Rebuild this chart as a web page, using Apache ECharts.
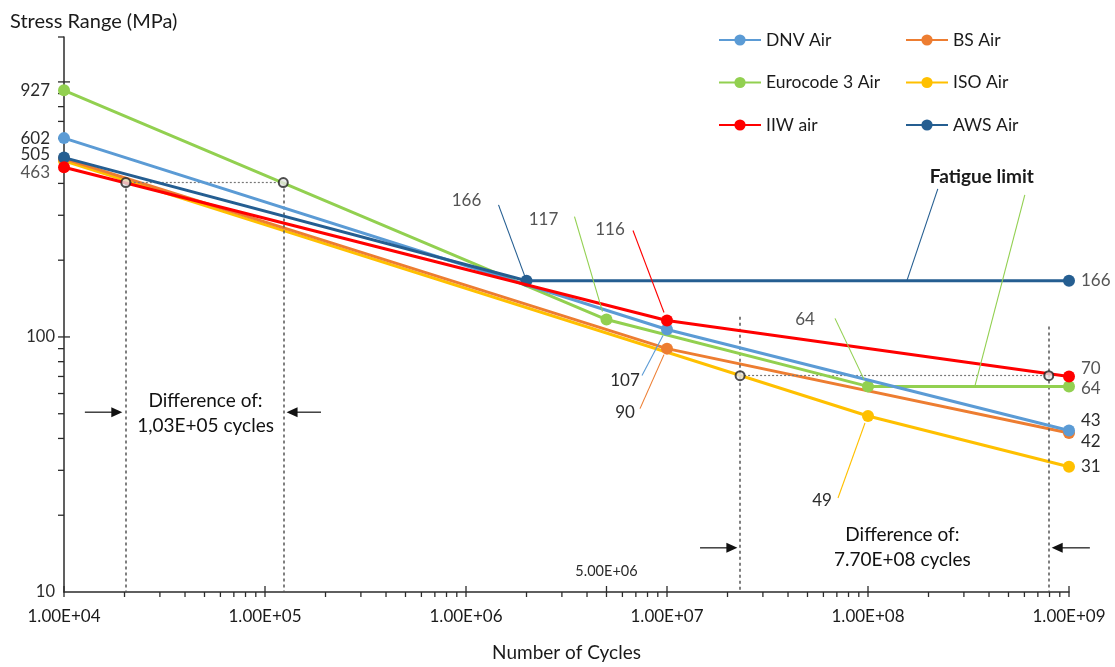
<!DOCTYPE html>
<html style="height: 100%">
<head>
<meta charset="utf-8">
<script type="text/javascript" src="https://cdn.jsdelivr.net/npm/echarts@6/dist/echarts.min.js"></script>
</head>
<body style="height: 100%; margin: 0; background: #fff">
<div id="container" style="width: 1115px; height: 667px"></div>
<script type="text/javascript">
// S-N curves (cycles, stress range MPa)
var dnvX = [1e4, 1e7, 1e9];
var dnvY = [602, 107, 43];
var bsX = [1e4, 1e7, 1e9];
var bsY = [500, 90, 42];
var ecX = [1e4, 5e6, 1e8, 1e9];
var ecY = [927, 117, 64, 64];
var isoX = [1e4, 1e8, 1e9];
var isoY = [490, 49, 31];
var iiwX = [1e4, 1e7, 1e9];
var iiwY = [463, 116, 70];
var awsX = [1e4, 2e6, 1e9];
var awsY = [505, 166, 166];

// difference markers
var diffA_X = [2.03e4, 1.233e5];
var diffA_level = 403;
var diffB_X = [2.31e7, 7.93e8];
var diffB_level = 70.5;
var diffB_top = [120, 110];
// arrows [fromX, toX, level]
var arrows = [
    [1.27e4, 1.95e4, 50.7],
    [1.9e5, 1.28e5, 50.7],
    [1.46e7, 2.24e7, 14.9],
    [1.27e9, 8.2e8, 14.9]
];

var yLabels = [10, 100];
var xTickLabelFmt = function (v) { return '1.00E+0' + Math.round(Math.log10(v)); };

var FONT = 'Lato, "Open Sans", sans-serif';
var DARK = '#2b2b2b';
var GREY = '#555';

// tick lists (decades + 2..9 in between)
var ticks = [];
for (var d = 4; d <= 8; d++) {
    for (var k = 2; k <= 9; k++) ticks.push([k * Math.pow(10, d), 10, 0, k === 5 && d === 6 ? 1 : 0]);
}
[1e4, 1e5, 1e6, 1e7, 1e8, 1e9].forEach(function (v) { ticks.push([v, 10, 0, 1]); });
for (var d2 = 1; d2 <= 2; d2++) {
    for (var k2 = 2; k2 <= 9; k2++) ticks.push([1e4, k2 * Math.pow(10, d2), 1, 0]);
}
ticks.push([1e4, 100, 1, 1], [1e4, 1000, 1, 1], [1e4, 1500, 1, 0]);

function pts(xs, ys, labels) {
    return xs.map(function (x, i) {
        var item = { value: [x, ys[i]] };
        if (labels && labels[i]) item.label = Object.assign({ show: true }, labels[i]);
        return item;
    });
}
var leftLab = function (color, dy) { return { position: 'left', distance: 8, color: color || DARK, offset: [0, dy || 0] }; };
var rightLab = function (color, dy) { return { position: 'right', distance: 6, color: color || DARK, offset: [0, dy || 0] }; };

function curve(name, color, data, z) {
    return {
        name: name, type: 'line', data: data, z: z,
        symbol: 'circle', symbolSize: 12, showAllSymbol: true,
        lineStyle: { color: color, width: 3 },
        itemStyle: { color: color },
        label: { show: false, fontSize: 17, fontFamily: FONT, formatter: function (p) { return p.value[1]; } },
        emphasis: { disabled: true }
    };
}

var dom = document.getElementById('container');
var myChart = echarts.init(dom);

var legendText = { fontSize: 17.5, color: '#1a1a1a', fontFamily: FONT };
var option = {
    animation: false,
    backgroundColor: '#fff',
    textStyle: { fontFamily: FONT },
    grid: { left: 64, right: 46, top: 37, bottom: 69 },
    legend: [
        { left: 718, top: 31, orient: 'vertical', padding: 0, itemGap: 24.5, itemWidth: 42, itemHeight: 14,
          textStyle: legendText, data: ['DNV Air', 'Eurocode 3 Air', 'IIW air'] },
        { left: 905, top: 31, orient: 'vertical', padding: 0, itemGap: 24.5, itemWidth: 42, itemHeight: 14,
          textStyle: legendText, data: ['BS Air', 'ISO Air', 'AWS Air'] }
    ],
    xAxis: {
        type: 'log', logBase: 10, min: 1e4, max: 1e9,
        name: 'Number of Cycles', nameLocation: 'middle', nameGap: 51,
        nameTextStyle: { fontSize: 19, color: '#1a1a1a', fontFamily: FONT },
        axisLine: { lineStyle: { color: DARK, width: 1.5 } },
        axisTick: { show: false },
        splitLine: { show: false },
        axisLabel: { fontSize: 17, color: '#1a1a1a', margin: 16, fontFamily: FONT, formatter: xTickLabelFmt }
    },
    yAxis: {
        type: 'log', logBase: 10, min: 10, max: 1500,
        name: 'Stress Range (MPa)', nameLocation: 'end', nameGap: 5,
        nameTextStyle: { fontSize: 20, color: '#1a1a1a', align: 'left', padding: [0, 0, 0, -54], fontFamily: FONT },
        axisLine: { lineStyle: { color: DARK, width: 1.5 } },
        axisTick: { show: false },
        splitLine: { show: false },
        axisLabel: {
            fontSize: 16.5, color: DARK, margin: 9, fontFamily: FONT,
            formatter: function (v) { return yLabels.indexOf(Math.round(v)) >= 0 ? String(Math.round(v)) : ''; }
        }
    },
    series: [
        {
            type: 'custom', name: 'ticks', silent: true, clip: false, z: 1,
            data: ticks, encode: { x: 0, y: 1 },
            renderItem: function (params, api) {
                var p = api.coord([api.value(0), api.value(1)]);
                var isY = api.value(2) === 1, major = api.value(3) === 1;
                var shape = isY
                    ? { x1: p[0] - 6, y1: p[1], x2: p[0] + (major ? 6 : 0), y2: p[1] }
                    : { x1: p[0], y1: p[1] + 5, x2: p[0], y2: p[1] - (major ? 6 : 0) };
                return { type: 'line', shape: shape, style: { stroke: DARK, lineWidth: 1.3 } };
            }
        },
        curve('ISO Air', '#FFC000', pts(isoX, isoY, { 2: rightLab(DARK, 0) }), 3),
        curve('BS Air', '#ED7D31', pts(bsX, bsY, { 2: rightLab(DARK, 8) }), 4),
        curve('Eurocode 3 Air', '#92D050', pts(ecX, ecY, { 0: leftLab(), 3: rightLab(GREY, 2) }), 5),
        curve('DNV Air', '#5B9BD5', pts(dnvX, dnvY, { 0: leftLab(), 2: rightLab(DARK, -10) }), 6),
        curve('AWS Air', '#255E91', pts(awsX, awsY, { 0: leftLab(DARK, -3), 2: rightLab(GREY, 0) }), 7),
        curve('IIW air', '#FF0000', pts(iiwX, iiwY, { 0: leftLab(GREY, 5), 2: rightLab(GREY, -8) }), 8),
        {
            type: 'scatter', name: 'diff', silent: true, z: 9, clip: false,
            symbol: 'circle', symbolSize: 9,
            itemStyle: { color: '#e6e6e6', borderColor: '#222', borderWidth: 2 },
            data: [[diffA_X[0], diffA_level], [diffA_X[1], diffA_level], [diffB_X[0], diffB_level], [diffB_X[1], diffB_level]],
            markLine: {
                silent: true, symbol: 'none', animation: false,
                label: { show: false },
                lineStyle: { color: '#555', type: [3, 3], width: 1.5 },
                data: [
                    [{ coord: [diffA_X[0], diffA_level] }, { coord: [diffA_X[0], 10] }],
                    [{ coord: [diffA_X[1], diffA_level] }, { coord: [diffA_X[1], 10] }],
                    [{ coord: [diffB_X[0], diffB_top[0]] }, { coord: [diffB_X[0], 10] }],
                    [{ coord: [diffB_X[1], diffB_top[1]] }, { coord: [diffB_X[1], 10] }],
                    [{ coord: [diffA_X[0], diffA_level], lineStyle: { type: [2, 2], color: '#777', width: 1.2 } }, { coord: [diffA_X[1], diffA_level] }],
                    [{ coord: [diffB_X[0], diffB_level], lineStyle: { type: [2, 2], color: '#777', width: 1.2 } }, { coord: [diffB_X[1], diffB_level] }]
                ]
            }
        }
    ]
};
myChart.setOption(option);

// callouts: point (data) -> label offset (px), leader start offset, leader end offset
var callouts = [
    { x: awsX[1], y: awsY[1], text: '166', color: '#255E91', tc: GREY, t: [-60, -80], s: [-28, -76], e: [0, 0] },
    { x: ecX[1], y: ecY[1], text: '117', color: '#92D050', tc: GREY, t: [-63, -100], s: [-32, -103], e: [-4, -8] },
    { x: iiwX[1], y: iiwY[1], text: '116', color: '#FF0000', tc: GREY, t: [-57, -91], s: [-34, -90], e: [-3, -8] },
    { x: dnvX[1], y: dnvY[1], text: '107', color: '#5B9BD5', tc: DARK, t: [-42, 51], s: [-25, 46], e: [-4, 6] },
    { x: bsX[1], y: bsY[1], text: '90', color: '#ED7D31', tc: DARK, t: [-42, 64], s: [-27, 60], e: [-3, 6] },
    { x: ecX[2], y: ecY[2], text: '64', color: '#92D050', tc: GREY, t: [-63, -67], s: [-33, -68], e: [-4, -7] },
    { x: isoX[1], y: isoY[1], text: '49', color: '#FFC000', tc: DARK, t: [-46, 85], s: [-30, 82], e: [-3, 7] }
];
var fatigueTargets = [[1.56e8, 166], [3.4e8, 64]];

var g = [];
function px(x, y) { return myChart.convertToPixel({ xAxisIndex: 0, yAxisIndex: 0 }, [x, y]); }
callouts.forEach(function (c) {
    var p = px(c.x, c.y);
    g.push({ type: 'line', silent: true, z: 20, shape: { x1: p[0] + c.s[0], y1: p[1] + c.s[1], x2: p[0] + c.e[0], y2: p[1] + c.e[1] },
             style: { stroke: c.color, lineWidth: 1.1 } });
    g.push({ type: 'text', silent: true, z: 20, x: p[0] + c.t[0], y: p[1] + c.t[1],
             style: { text: c.text, fill: c.tc, font: '17px ' + FONT, textAlign: 'center', textVerticalAlign: 'middle' } });
});
var f0 = px(fatigueTargets[0][0], fatigueTargets[0][1]);
var f1 = px(fatigueTargets[1][0], fatigueTargets[1][1]);
g.push({ type: 'line', silent: true, z: 20, shape: { x1: f0[0] + 31, y1: f0[1] - 92, x2: f0[0], y2: f0[1] }, style: { stroke: '#255E91', lineWidth: 1.1 } });
g.push({ type: 'line', silent: true, z: 20, shape: { x1: f0[0] + 118, y1: f0[1] - 86, x2: f1[0], y2: f1[1] }, style: { stroke: '#92D050', lineWidth: 1.1 } });
g.push({ type: 'text', silent: true, z: 20, x: f0[0] + 75, y: f0[1] - 104,
         style: { text: 'Fatigue limit', fill: '#1a1a1a', font: 'bold 19px ' + FONT, textAlign: 'center', textVerticalAlign: 'middle' } });

// arrows
arrows.forEach(function (a) {
    var p0 = px(a[0], a[2]), p1 = px(a[1], a[2]);
    var dir = p1[0] > p0[0] ? 1 : -1;
    g.push({ type: 'line', silent: true, z: 20, shape: { x1: p0[0], y1: p0[1], x2: p1[0] - dir * 8, y2: p1[1] },
             style: { stroke: '#222', lineWidth: 1.3 } });
    g.push({ type: 'polygon', silent: true, z: 20,
             shape: { points: [[p1[0], p1[1]], [p1[0] - dir * 11, p1[1] - 5], [p1[0] - dir * 11, p1[1] + 5]] },
             style: { fill: '#111' } });
});

// difference texts
var dA = px(Math.sqrt(diffA_X[0] * diffA_X[1]), 50.7);
var dB = px(Math.sqrt(diffB_X[0] * diffB_X[1]), 14.9);
g.push({ type: 'text', silent: true, z: 20, x: dA[0] + 1, y: dA[1] + 1,
         style: { text: 'Difference of:\n1,03E+05 cycles', fill: '#111', font: '19px ' + FONT, lineHeight: 25, textAlign: 'center', textVerticalAlign: 'middle' } });
g.push({ type: 'text', silent: true, z: 20, x: dB[0] + 8, y: dB[1],
         style: { text: 'Difference of:\n7.70E+08 cycles', fill: '#111', font: '19px ' + FONT, lineHeight: 25, textAlign: 'center', textVerticalAlign: 'middle' } });
var m5 = px(5e6, 10);
g.push({ type: 'text', silent: true, z: 20, x: m5[0], y: m5[1] - 21,
         style: { text: '5.00E+06', fill: DARK, font: '14.5px ' + FONT, textAlign: 'center', textVerticalAlign: 'middle' } });

myChart.setOption({ graphic: g });
</script>
</body>
</html>
